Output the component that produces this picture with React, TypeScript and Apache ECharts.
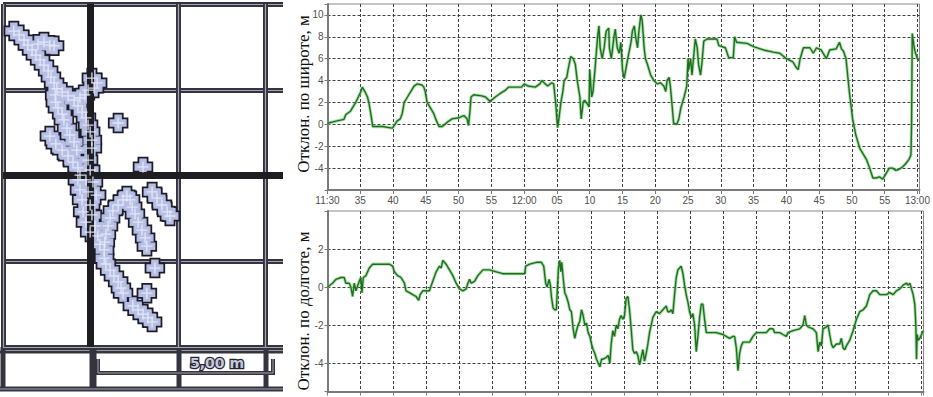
import React, { useEffect, useRef } from 'react';
import * as echarts from 'echarts';

// ---- left panel: horizontal track (metres east / north) ----
const trackEast = [
  0.31, 0.46, 0.6, 0.71, 0.83, 0.94, 1.06, 1.17, 1.29, 1.37, 1.46, 1.54,
  1.0, 1.17, 1.34, 1.46,
  2.54, 2.69, 2.6, 2.43,
  1.69, 1.86, 2.03, 2.14, 2.26, 2.37, 2.43, 2.49, 2.54, 2.54, 2.2, 2.34,
  1.49, 1.51, 1.57, 1.69, 1.74, 1.83, 1.91, 2.03, 2.11,
  1.34, 1.51, 1.69, 1.86, 2.0, 2.14,
  2.2, 2.43, 2.49, 2.14, 2.37, 2.57, 2.2, 2.43, 2.66, 2.26, 2.49, 2.29, 2.54, 2.37, 2.63, 2.49, 2.71, 2.77,
  2.89, 2.89, 2.91, 2.94, 3.0, 3.06, 3.14, 3.29, 3.43, 3.54, 3.63, 3.69, 3.77, 3.86, 3.97, 4.06, 4.11,
  4.26, 4.4, 4.54, 4.69, 4.77,
  2.94, 3.06, 3.17, 3.29, 3.37, 3.43,
  4.34, 4.11,
  3.71, 3.86, 4.0, 4.14, 4.26,
  3.29, 4.0,
];
const trackNorth = [
  9.21, 9.1, 8.95, 8.8, 8.66, 8.51, 8.37, 8.22, 8.05, 7.87, 7.7, 7.53,
  8.83, 8.89, 8.8, 8.78,
  7.84, 7.7, 7.55, 7.49,
  7.43, 7.32, 7.2, 7.03, 6.85, 6.68, 6.47, 6.27, 6.03, 5.8, 7.26, 7.35,
  7.35, 7.14, 6.97, 6.79, 6.62, 6.38, 6.18, 5.98, 5.74,
  6.15, 5.92, 5.74, 5.57, 5.39, 5.22,
  5.01, 5.45, 5.16, 4.87, 4.87, 4.81, 4.58, 4.52, 4.43, 4.29, 4.14, 3.94, 3.85, 3.64, 3.53, 3.35, 3.24, 2.99,
  2.59, 2.83, 3.06, 3.29, 3.53, 3.76, 3.97, 4.14, 4.29, 4.4, 4.29, 4.08, 3.88, 3.64, 3.41, 3.18, 2.94,
  4.52, 4.34, 4.14, 3.94, 3.82,
  2.42, 2.24, 2.07, 1.9, 1.72, 1.57,
  2.3, 1.57,
  1.2, 1.08, 0.96, 0.85, 0.73,
  6.53, 5.25,
];

// ---- right panels: minutes since 11:30 ----
const timeTicks = ['11:30', '35', '40', '45', '50', '55', '12:00', '05', '10', '15', '20', '25', '30', '35', '40', '45', '50', '55', '13:00'];

const latMinutes = [
  0, 1.3, 2.5, 2.8, 3.5, 3.8, 4.3, 4.7, 5.1, 5.3, 5.7, 6.1, 6.3, 6.6, 6.9, 8.4, 9.4, 9.9, 10.3, 10.6,
  11.1, 11.4, 11.7, 12.2, 12.7, 13.2, 13.7, 14.4, 14.7, 14.9, 15.2, 15.7, 16.2, 16.5, 17.0, 17.5, 17.9, 18.5, 19.0, 20.0,
  20.8, 21.3, 21.5, 21.7, 21.9, 22.3, 23.5, 24.1, 24.8, 25.6, 26.3, 27.1, 27.6, 29.6, 30.0, 30.6, 31.7, 32.4, 32.7, 33.2,
  33.6, 34.2, 34.5, 34.8, 35.1, 35.3, 35.6, 35.9, 36.1, 36.5, 36.7, 37.1, 37.5, 37.8, 38.1, 38.5, 38.7, 39.0, 39.2, 39.7,
  39.9, 40.0, 40.3, 40.5, 40.8, 41.2, 41.4, 41.6, 41.9, 42.2, 42.5, 42.9, 43.0, 43.3, 43.7, 43.9, 44.2, 44.5, 44.75, 45.0,
  45.25, 45.5, 45.8, 46.3, 46.5, 46.8, 47.0, 47.3, 47.5, 47.8, 48.0, 48.3, 48.5, 48.8, 49.3, 49.8, 50.3, 50.8, 51.3, 51.6,
  51.8, 52.1, 52.3, 52.6, 52.8, 53.3, 53.6, 53.9, 54.4, 54.8, 55.0, 55.1, 55.4, 55.6, 55.9, 56.1, 56.4, 56.6, 56.9, 57.1,
  57.4, 57.9, 59.4, 59.7, 60.7, 61.2, 61.9, 62.1, 62.4, 64.0, 65.0, 66.5, 68.0, 69.0, 70.0, 71.0, 71.5, 71.8, 72.1, 72.6,
  73.6, 74.1, 74.6, 75.3, 76.1, 76.6, 77.6, 78.1, 78.4, 78.7, 79.1, 79.6, 80.1, 80.6, 81.2, 81.7, 82.2, 82.7, 83.2, 83.7,
  84.2, 84.7, 85.2, 85.7, 86.2, 86.7, 87.2, 87.7, 88.2, 88.7, 89.0, 89.1, 89.2, 89.5, 89.7, 90.0, 90.25,
];
const latValues = [
  0.1, 0.3, 0.45, 0.9, 1.2, 1.5, 2.0, 2.5, 3.0, 3.4, 3.0, 2.5, 2.0, 1.0, -0.2, -0.2, -0.3, -0.35, 0, 0.3,
  0.5, 1.0, 2.0, 2.5, 3.0, 3.5, 3.7, 3.6, 3.4, 3.0, 2.0, 1.5, 1.0, 0.5, -0.2, -0.2, 0, 0.3, 0.5, 0.6,
  0.8, 0.5, -0.1, 1.0, 2.5, 2.7, 2.6, 2.5, 2.1, 2.5, 2.8, 3.1, 3.4, 3.4, 3.7, 3.5, 3.4, 3.7, 4.0, 3.7,
  3.5, 3.8, 3.7, 2.0, -0.3, 0.5, 2.0, 3.0, 4.0, 4.3, 5.0, 6.2, 6.0, 5.5, 4.0, 2.5, 0.5, 2.0, 2.2, 1.8,
  1.6, 5.0, 2.5, 3.0, 5.0, 8.0, 9.0, 7.0, 6.0, 7.0, 8.5, 8.8, 7.0, 6.0, 8.0, 8.7, 7.0, 6.5, 7.5, 5.0,
  4.2, 5.0, 6.0, 7.5, 8.5, 9.0, 8.0, 7.0, 8.5, 10.0, 9.5, 7.0, 6.0, 5.5, 4.5, 4.0, 3.7, 3.8, 3.5, 3.0,
  4.0, 4.3, 3.5, 1.5, 0.1, 0.0, 0.5, 1.5, 2.5, 3.5, 6.0, 5.0, 6.0, 4.5, 6.5, 7.8, 7.0, 5.5, 4.5, 5.5,
  7.6, 7.8, 7.8, 7.2, 7.0, 6.1, 6.1, 8.0, 7.5, 7.4, 7.1, 6.8, 6.6, 6.5, 6.0, 5.7, 5.2, 5.0, 6.0, 7.0,
  7.0, 6.5, 7.0, 6.8, 6.0, 6.8, 6.9, 7.5, 6.9, 6.7, 6.0, 3.0, 0.5, -1.0, -2.2, -2.7, -3.2, -4.0, -4.9, -4.9,
  -4.8, -5.0, -4.5, -4.0, -4.0, -4.2, -4.1, -3.9, -3.6, -3.2, -2.8, 0, 8.3, 7.0, 6.5, 6.0, 5.8,
];

const lonMinutes = [
  0, 0.76, 1.27, 2.03, 2.53, 2.78, 3.29, 3.54, 3.8, 4.05, 4.3, 4.81, 5.06, 5.22, 5.42, 5.82, 6.33, 6.84, 7.85, 9.37,
  9.87, 10.13, 10.63, 11.14, 11.65, 11.9, 12.41, 12.91, 13.42, 13.82, 14.03, 14.43, 15.44, 15.95, 16.46, 16.96, 17.22, 17.47, 17.72, 17.97,
  18.48, 18.99, 19.49, 20.0, 20.51, 21.01, 21.27, 21.52, 21.77, 22.28, 22.78, 23.54, 24.56, 25.57, 26.58, 28.61, 29.87, 30.03, 30.63, 31.65,
  32.41, 32.76, 33.06, 33.27, 33.57, 33.77, 33.92, 34.18, 34.43, 34.68, 34.84, 34.99, 35.19, 35.34, 35.49, 35.7, 35.95, 36.2, 36.46, 36.71,
  36.96, 37.22, 37.47, 37.72, 37.97, 38.23, 38.48, 38.73, 38.99, 39.24, 39.49, 39.75, 40.0, 40.25, 40.51, 40.76, 41.01, 41.27, 41.52, 41.77,
  42.28, 42.53, 42.78, 42.98, 43.23, 43.48, 43.74, 43.99, 44.24, 44.49, 44.75, 45.0, 45.25, 45.51, 45.76, 46.01, 46.26, 46.52, 46.77, 47.02,
  47.28, 47.53, 47.78, 48.03, 48.29, 48.54, 48.79, 49.3, 49.8, 50.31, 50.81, 51.32, 51.57, 51.83, 52.08, 52.33, 52.58, 52.84, 53.09, 53.34,
  53.59, 53.85, 54.1, 54.35, 54.61, 54.86, 55.11, 55.36, 55.62, 55.87, 56.12, 56.38, 56.63, 56.88, 57.13, 57.39, 57.89, 58.9, 59.91, 60.42,
  60.92, 61.43, 61.68, 61.94, 62.19, 62.44, 62.69, 62.95, 63.96, 64.46, 64.97, 66.49, 66.99, 67.5, 67.75, 68.51, 69.01, 69.52, 69.77, 70.53,
  71.54, 72.05, 72.3, 72.55, 72.81, 73.56, 74.07, 74.33, 74.58, 74.83, 75.08, 75.59, 75.84, 76.09, 76.35, 76.6, 77.1, 77.61, 77.86, 78.11,
  78.37, 78.62, 79.13, 79.63, 80.14, 80.64, 81.15, 81.65, 82.16, 82.66, 83.17, 83.68, 84.18, 84.69, 85.19, 85.7, 86.2, 86.71, 87.21, 87.72,
  87.97, 88.23, 88.48, 88.73, 88.98, 89.14, 89.24, 89.34, 89.49, 89.74, 90.0, 90.25,
];
const lonValues = [
  0, 0.2, 0.4, 0.5, 0.5, 0.2, 0.2, 0, -0.5, 0.2, -0.2, 0.3, 0.5, -0.3, 0.5, 0.6, 1.0, 1.2, 1.2, 1.2,
  1.1, 0.8, 0.6, 0.5, 0.2, -0.2, -0.3, -0.4, -0.5, -0.7, -0.4, -0.2, -0.2, 0.3, 0.8, 1.1, 1.0, 1.4, 1.3, 1.2,
  0.9, 0.6, 0.2, -0.1, -0.2, -0.1, 0.2, 0.4, 0.2, 0.3, 0.6, 0.9, 0.9, 0.8, 0.7, 0.7, 0.7, 1.1, 1.2, 1.3,
  1.3, 1.1, 0.2, 0, 0.4, 0.1, -0.5, -1.1, -1.2, -1.2, 0, 1.0, 1.4, 0.8, 1.3, 0.5, -0.3, -0.5, -0.8, -1.2,
  -1.3, -2.2, -2.7, -2.3, -2.0, -1.8, -1.2, -1.5, -2.0, -1.9, -2.4, -2.6, -3.0, -3.3, -3.5, -3.8, -4.0, -4.2, -3.8, -3.8,
  -3.7, -3.6, -4.0, -3.0, -2.3, -2.6, -2.0, -2.2, -1.7, -1.5, -1.7, -1.5, -0.6, -0.5, -1.2, -2.2, -3.3, -3.5, -3.4, -3.6,
  -4.1, -3.7, -3.3, -3.9, -3.5, -3.0, -2.4, -1.6, -1.3, -1.4, -1.2, -1.0, -1.3, -1.3, -1.2, -1.4, -0.4, 0.5, 0.9, 1.0,
  1.1, 0.7, 0.1, -0.4, -0.8, -1.3, -1.6, -1.4, -2.0, -3.4, -2.6, -1.6, -0.9, -0.9, -1.7, -2.4, -2.4, -2.4, -2.5, -2.6,
  -2.7, -2.6, -2.6, -3.2, -4.4, -3.5, -3.1, -2.9, -2.9, -2.6, -2.4, -2.4, -2.2, -2.2, -2.4, -2.4, -2.5, -2.6, -2.4, -2.3,
  -2.2, -2.0, -1.5, -2.0, -2.1, -2.2, -2.4, -3.4, -2.9, -3.1, -2.2, -2.1, -2.0, -2.5, -3.0, -3.2, -3.0, -3.0, -2.7, -3.2,
  -3.3, -3.1, -2.8, -2.3, -1.7, -1.3, -1.2, -1.0, -0.4, -0.2, -0.2, -0.4, -0.4, -0.4, -0.3, -0.4, -0.2, -0.1, 0.1, 0.2,
  0.1, 0.2, -0.1, -0.4, -0.9, -2.0, -3.8, -2.5, -2.8, -2.7, -2.5, -2.3,
];

const plusOuter = 'path://M-2.2,-5H2.2V-2.2H5V2.2H2.2V5H-2.2V2.2H-5V-2.2H-2.2Z';
const plusThin = 'path://M-0.6,-5H0.6V-0.6H5V0.6H0.6V5H-0.6V0.6H-5V-0.6H-0.6Z';

const DARK = '#34343f';
const LIGHT = '#a4a4b4';

export default function App() {
  const ref = useRef<HTMLDivElement>(null);
  useEffect(() => {
    if (!ref.current) return;
    const chart = echarts.init(ref.current, undefined, { renderer: 'svg' });
    const track = trackEast.map((e, i) => [e, trackNorth[i]]);
    const lat = latMinutes.map((t, i) => [t, latValues[i]]);
    const lon = lonMinutes.map((t, i) => [t, lonValues[i]]);

    const timeFmt = (v: number) => {
      const i = Math.round(v / 5);
      return Math.abs(v - i * 5) < 1e-6 && timeTicks[i] ? timeTicks[i] : '';
    };
    const evenFmt = (lo: number, hi: number) => (v: number) =>
      Math.abs(v - Math.round(v)) < 1e-6 && Math.round(v) % 2 === 0 && v >= lo && v <= hi ? String(Math.round(v)) : '';

    const mapAxisBase = {
      gridIndex: 0,
      type: 'value',
      axisLine: { show: false },
      axisTick: { show: false },
      axisLabel: { show: false },
    };
    const timeAxis = (grid: number, labels: boolean) => ({
      gridIndex: grid,
      type: 'value',
      min: 0,
      max: 90.3,
      interval: 5,
      axisLine: { show: true, onZero: false, lineStyle: { color: '#7a7a7a', width: 2 } },
      axisTick: { show: true, length: 4, lineStyle: { color: '#7a7a7a' } },
      axisLabel: { show: labels, formatter: timeFmt, color: '#505050', fontSize: 10, fontFamily: 'Liberation Sans', margin: 5 },
      splitLine: { show: true, showMinLine: false, showMaxLine: false, lineStyle: { color: '#404040', type: [3, 2], width: 1 } },
    });
    const valAxis = (grid: number, min: number, max: number, interval: number | undefined, lo: number, hi: number) => ({
      gridIndex: grid,
      type: 'value',
      min,
      max,
      ...(interval ? { interval } : {}),
      axisLine: { show: true, onZero: false, lineStyle: { color: '#7a7a7a', width: 2 } },
      axisTick: { show: true, length: 3, lineStyle: { color: '#7a7a7a' } },
      axisLabel: { formatter: evenFmt(lo, hi), color: '#505050', fontSize: 10, fontFamily: 'Liberation Sans', margin: 4 },
      splitLine: { show: true, showMinLine: false, showMaxLine: false, lineStyle: { color: '#404040', type: [3, 2], width: 1 } },
    });

    const stripLine = (x: number, w: number) => ({
      type: 'line',
      shape: { x1: x, y1: 347, x2: x, y2: 390 },
      style: { stroke: DARK, lineWidth: w },
    });

    chart.setOption({
      animation: false,
      backgroundColor: '#ffffff',
      grid: [
        { left: 3, top: 4, width: 280, height: 343, show: false },
        { left: 327.5, top: 4, width: 596, height: 186, show: true, borderColor: '#8a8a8a', borderWidth: 1 },
        { left: 327.5, top: 211, width: 596, height: 180.5, show: true, borderColor: '#8a8a8a', borderWidth: 1 },
      ],
      xAxis: [
        { ...mapAxisBase, min: 0, max: 8, interval: 2.5, splitLine: { show: true, showMaxLine: false, lineStyle: { color: DARK, width: 5 } } },
        { ...mapAxisBase, position: 'top', min: 0, max: 8, interval: 2.5, splitLine: { show: true, showMaxLine: false, lineStyle: { color: LIGHT, width: 1.2 } } },
        timeAxis(1, true),
        timeAxis(2, false),
      ],
      yAxis: [
        { ...mapAxisBase, min: 0, max: 10, interval: 2.5, splitLine: { show: true, lineStyle: { color: DARK, width: 5 } } },
        { ...mapAxisBase, position: 'right', min: 0, max: 10, interval: 2.5, splitLine: { show: true, lineStyle: { color: LIGHT, width: 1.2 } } },
        valAxis(1, -6, 11, 2, -4, 10),
        valAxis(2, -5.5, 4, undefined, -4, 2),
      ],
      graphic: [
        { type: 'text', x: 303, y: 94, rotation: Math.PI / 2, style: { text: 'Отклон. по широте, м', font: '17px "Liberation Serif"', fill: '#111', align: 'center', verticalAlign: 'middle' } },
        { type: 'text', x: 303, y: 311, rotation: Math.PI / 2, style: { text: 'Отклон. по долготе, м', font: '17px "Liberation Serif"', fill: '#111', align: 'center', verticalAlign: 'middle' } },
        stripLine(3, 5),
        stripLine(93, 7),
        stripLine(179, 5),
        stripLine(266, 5),
        { type: 'line', shape: { x1: 0, y1: 352, x2: 283, y2: 352 }, style: { stroke: DARK, lineWidth: 3 } },
        { type: 'line', shape: { x1: 0, y1: 389, x2: 283, y2: 389 }, style: { stroke: DARK, lineWidth: 5 } },
        { type: 'line', shape: { x1: 0, y1: 389, x2: 283, y2: 389 }, style: { stroke: LIGHT, lineWidth: 1.2 } },
        { type: 'polyline', shape: { points: [[98, 359], [98, 373], [273, 373], [273, 359]] }, style: { stroke: DARK, lineWidth: 4, fill: 'none' } },
        { type: 'polyline', shape: { points: [[98, 359], [98, 373], [273, 373], [273, 359]] }, style: { stroke: LIGHT, lineWidth: 1, fill: 'none' } },
        { type: 'text', x: 217, y: 363, style: { text: '5,00 m', font: 'bold 14px "DejaVu Sans"', fill: '#c4c8dc', stroke: '#25252f', lineWidth: 2.5, align: 'center', verticalAlign: 'middle' } },
      ],
      series: [
        {
          type: 'line', xAxisIndex: 0, yAxisIndex: 0, data: [], z: 1, silent: true,
          markLine: {
            symbol: 'none', silent: true, label: { show: false },
            lineStyle: { color: '#1d1d22', width: 7, type: 'solid' },
            data: [{ xAxis: 2.5 }, { yAxis: 5 }],
          },
        },
        {
          type: 'scatter', xAxisIndex: 0, yAxisIndex: 0, data: track, symbol: plusOuter, symbolSize: 17, z: 3, silent: true,
          itemStyle: { color: '#b6bee3', borderColor: '#1c1c2a', borderWidth: 3.5, opacity: 1 },
        },
        {
          type: 'scatter', xAxisIndex: 0, yAxisIndex: 0, data: track, symbol: plusOuter, symbolSize: 17, z: 4, silent: true,
          itemStyle: { color: '#b6bee3', opacity: 1 },
        },
        {
          type: 'scatter', xAxisIndex: 0, yAxisIndex: 0, data: track, symbol: plusThin, symbolSize: 11, z: 5, silent: true,
          itemStyle: { color: '#e8ebfb', opacity: 0.9 },
        },
        {
          type: 'line', xAxisIndex: 2, yAxisIndex: 2, data: lat, showSymbol: false, z: 3, silent: true,
          lineStyle: { color: '#66c266', width: 3.2, opacity: 0.55 },
        },
        {
          type: 'line', xAxisIndex: 2, yAxisIndex: 2, data: lat, showSymbol: false, z: 4, silent: true,
          lineStyle: { color: '#1d6f1d', width: 1.4 },
        },
        {
          type: 'line', xAxisIndex: 3, yAxisIndex: 3, data: lon, showSymbol: false, z: 3, silent: true,
          lineStyle: { color: '#66c266', width: 3.2, opacity: 0.55 },
        },
        {
          type: 'line', xAxisIndex: 3, yAxisIndex: 3, data: lon, showSymbol: false, z: 4, silent: true,
          lineStyle: { color: '#1d6f1d', width: 1.4 },
        },
      ],
    });
    return () => chart.dispose();
  }, []);
  return <div ref={ref} style={{ position: 'fixed', left: 0, top: 0, width: 933, height: 397 }} />;
}
